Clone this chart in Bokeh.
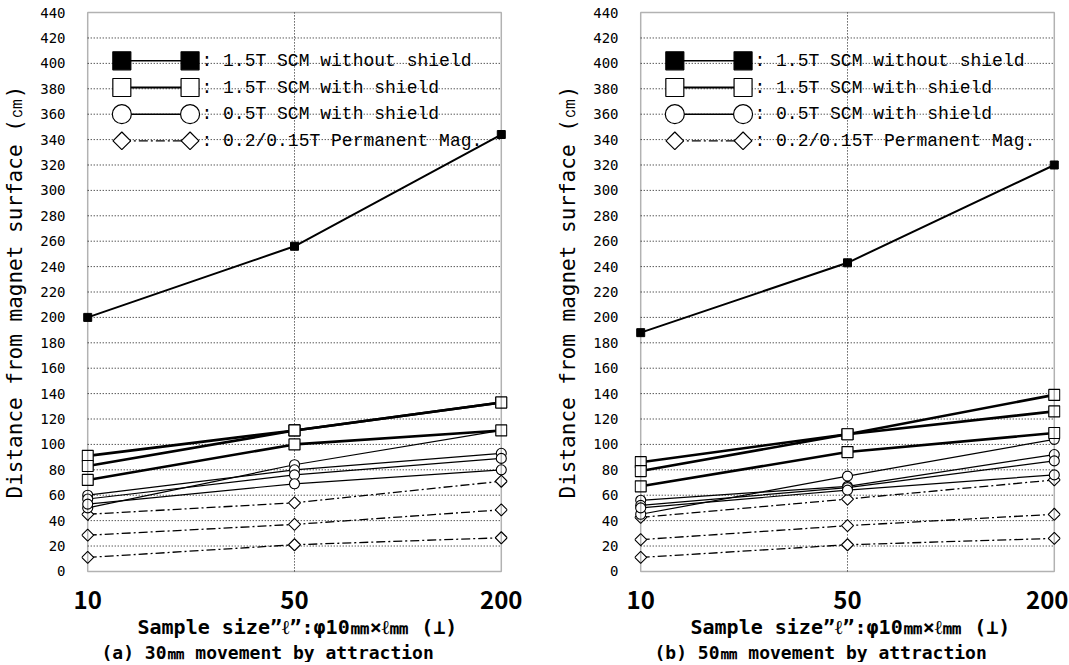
import math
from bokeh.plotting import figure
from bokeh.layouts import row
from bokeh.models import FixedTicker, Label, Title, BoxAnnotation
from bokeh.embed import file_html
from bokeh.resources import INLINE

# ---------------- data ----------------
SIZES = ["10", "50", "200"]
YTICKS = list(range(0, 441, 20))
YMAX = 440

# (a) 30mm movement by attraction
A_SCM15_NOSHIELD = [200, 256, 344]
A_SCM15_SHIELD_1 = [91, 111, 133]
A_SCM15_SHIELD_2 = [83, 111, 133]
A_SCM15_SHIELD_3 = [72, 100, 111]
A_SCM05_SHIELD_1 = [50, 84, 111]
A_SCM05_SHIELD_2 = [60, 80, 93]
A_SCM05_SHIELD_3 = [57, 76, 89]
A_SCM05_SHIELD_4 = [53, 69, 80]
A_PERM_1 = [45, 54, 71]
A_PERM_2 = [28.5, 37, 48.5]
A_PERM_3 = [11, 21, 26.5]

# (b) 50mm movement by attraction
B_SCM15_NOSHIELD = [188, 243, 320]
B_SCM15_SHIELD_1 = [86, 108, 139]
B_SCM15_SHIELD_2 = [79, 108, 126]
B_SCM15_SHIELD_3 = [67, 94, 109]
B_SCM05_SHIELD_1 = [45, 75, 104]
B_SCM05_SHIELD_2 = [56, 67, 92]
B_SCM05_SHIELD_3 = [52, 66, 87]
B_SCM05_SHIELD_4 = [50, 64, 76]
B_PERM_1 = [42.5, 57, 72]
B_PERM_2 = [25, 36, 45]
B_PERM_3 = [11, 21, 26]

LEGEND_LABELS = [": 1.5T SCM without shield",
                 ": 1.5T SCM with shield",
                 ": 0.5T SCM with shield",
                 ": 0.2/0.15T Permanent Mag."]

XLABEL = "Sample size\u201d\u2113\u201d:\u03c610\u339c\u00d7\u2113\u339c (\u22a5)"
CAPTION_A = "(a) 30\u339c movement by attraction"
CAPTION_B = "(b) 50\u339c movement by attraction"
YLABEL = "Distance from magnet surface (\u339d)"

# ---------------- style ----------------
FW, FH = 426, 569
PADX, PADY = 0.03, 4
LEG_ROWS = [402, 381, 360, 339]
LEG_X = [0.165, 0.495]
LEG_TEXT_X = 0.55
DASHDOT = "9 3 2 3"
GRID_COLOR = "#111111"


def make_panel(d, caption, border_left, border_right):
    xs = list(range(len(SIZES)))
    xmax = len(SIZES) - 1
    p = figure(frame_width=FW, frame_height=FH,
               x_range=(-PADX, xmax + PADX), y_range=(-PADY, YMAX + PADY),
               output_backend="svg", toolbar_location=None,
               min_border_left=border_left, min_border_right=border_right,
               min_border_top=7, min_border_bottom=0)
    p.outline_line_color = None
    p.xgrid.visible = False
    p.ygrid.visible = False
    p.background_fill_color = "white"
    p.border_fill_color = "white"

    # dotted grid
    inner = YTICKS[1:-1]
    p.segment(x0=[0] * len(inner), x1=[xmax] * len(inner), y0=inner, y1=inner,
              line_color=GRID_COLOR, line_width=1, line_dash="1 2")
    p.segment(x0=[1], x1=[1], y0=[0], y1=[YMAX], line_color=GRID_COLOR,
              line_width=1, line_dash="1 2")
    p.add_layout(BoxAnnotation(left=0, right=xmax, bottom=0, top=YMAX,
                               fill_alpha=0, line_color="black", line_width=1.5))

    # axes
    p.xaxis.ticker = FixedTicker(ticks=xs)
    p.xaxis.major_label_overrides = {i: s for i, s in enumerate(SIZES)}
    p.xaxis.major_label_text_font = "Noto Sans CJK JP"
    p.xaxis.major_label_text_font_style = "bold"
    p.xaxis.major_label_text_font_size = "24px"
    p.xaxis.major_label_text_color = "black"
    p.xaxis.major_label_standoff = 8
    p.yaxis.ticker = FixedTicker(ticks=YTICKS)
    p.yaxis.major_label_text_font = "DejaVu Sans Mono"
    p.yaxis.major_label_text_font_size = "14px"
    p.yaxis.major_label_text_color = "black"
    p.yaxis.major_label_standoff = 10
    p.yaxis.axis_label = YLABEL
    p.yaxis.axis_label_text_font = "DejaVu Sans Mono"
    p.yaxis.axis_label_text_font_style = "normal"
    p.yaxis.axis_label_text_font_size = "21px"
    p.yaxis.axis_label_text_color = "black"
    p.yaxis.axis_label_standoff = 10
    for ax in (p.xaxis, p.yaxis):
        ax.axis_line_color = None
        ax.major_tick_line_color = None
        ax.minor_tick_line_color = None

    # data: permanent magnets (dash-dot, diamonds)
    for ys in d["perm"]:
        p.line(xs, ys, line_color="black", line_width=1.3, line_dash=DASHDOT)
        p.scatter(xs, ys, marker="square", angle=math.pi / 4, size=8.5,
                  fill_color="white", line_color="black", line_width=1.1)
    # 0.5T SCM with shield (thin, circles)
    for ys in d["scm05"]:
        p.line(xs, ys, line_color="black", line_width=1.2)
        p.scatter(xs, ys, marker="circle", size=10, fill_color="white",
                  line_color="black", line_width=1.1)
    # 1.5T SCM with shield (thick, open squares)
    for ys in d["scm15s"]:
        p.line(xs, ys, line_color="black", line_width=2.6)
        p.scatter(xs, ys, marker="square", size=11, fill_color="white",
                  line_color="black", line_width=1.2)
    # 1.5T SCM without shield
    p.line(xs, d["scm15"], line_color="black", line_width=2)
    p.scatter(xs, d["scm15"], marker="square", size=8, fill_color="black",
              line_color="black")

    # legend (no box; sample line between two markers)
    specs = [("square", "black", 18, 1.5, "solid", 0),
             ("square", "white", 18, 2.2, "solid", 0),
             ("circle", "white", 19, 1.5, "solid", 0),
             ("square", "white", 12.5, 1.2, DASHDOT, math.pi / 4)]
    for (mk, fc, sz, lw, dash, ang), yv, lab in zip(specs, LEG_ROWS, LEGEND_LABELS):
        p.line(LEG_X, [yv, yv], line_color="black", line_width=lw, line_dash=dash)
        p.scatter(LEG_X, [yv, yv], marker=mk, size=sz, angle=ang, fill_color=fc,
                  line_color="black", line_width=1.2)
        p.add_layout(Label(x=LEG_TEXT_X, y=yv, text=lab, text_baseline="middle",
                           text_font="Liberation Mono", text_font_size="18px",
                           text_color="black"))

    # x label and caption as two lines below
    p.add_layout(Title(text=XLABEL, align="left", offset=56, standoff=2,
                       text_font="DejaVu Sans Mono", text_font_style="bold",
                       text_font_size="20px", text_color="black"), "below")
    p.add_layout(Title(text=caption, align="left", offset=20, standoff=0,
                       text_font="DejaVu Sans Mono", text_font_style="bold",
                       text_font_size="18px", text_color="black"), "below")
    return p


DATA_A = {"scm15": A_SCM15_NOSHIELD,
          "scm15s": [A_SCM15_SHIELD_1, A_SCM15_SHIELD_2, A_SCM15_SHIELD_3],
          "scm05": [A_SCM05_SHIELD_1, A_SCM05_SHIELD_2, A_SCM05_SHIELD_3, A_SCM05_SHIELD_4],
          "perm": [A_PERM_1, A_PERM_2, A_PERM_3]}
DATA_B = {"scm15": B_SCM15_NOSHIELD,
          "scm15s": [B_SCM15_SHIELD_1, B_SCM15_SHIELD_2, B_SCM15_SHIELD_3],
          "scm05": [B_SCM05_SHIELD_1, B_SCM05_SHIELD_2, B_SCM05_SHIELD_3, B_SCM05_SHIELD_4],
          "perm": [B_PERM_1, B_PERM_2, B_PERM_3]}

pa = make_panel(DATA_A, CAPTION_A, 72, 20)
pb = make_panel(DATA_B, CAPTION_B, 107, 8)
layout = row(pa, pb)

open("out.html", "w").write(file_html(layout, INLINE))
